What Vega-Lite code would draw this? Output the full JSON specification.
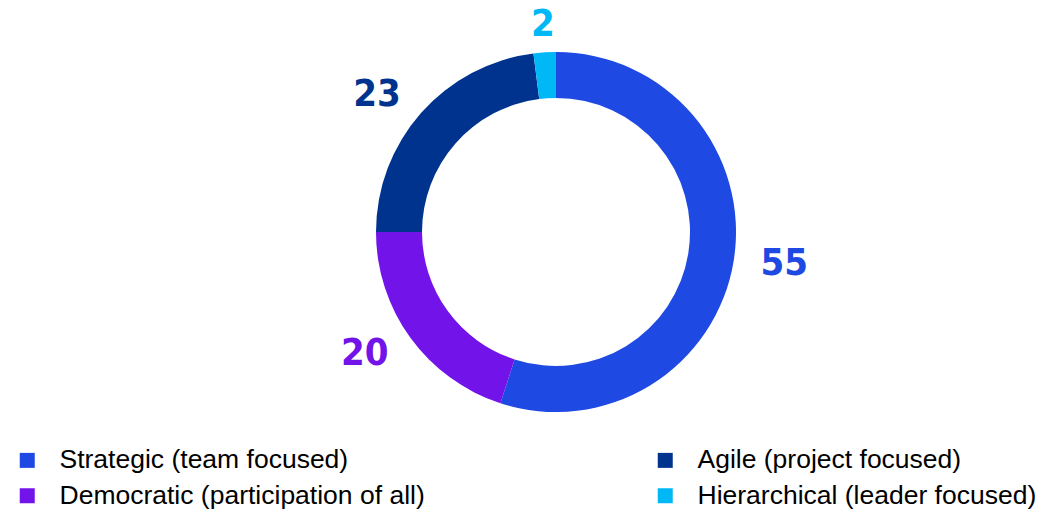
{
  "$schema": "https://vega.github.io/schema/vega-lite/v6.json",
  "width": 966,
  "height": 464,
  "autosize": {"type": "none"},
  "padding": {"left": 73, "top": 0, "right": 0, "bottom": 47},
  "background": "white",
  "view": {"stroke": null},
  "data": {
    "values": [
      {"category": "Strategic (team focused)", "value": 55, "rank": 1},
      {"category": "Democratic (participation of all)", "value": 20, "rank": 2},
      {"category": "Agile (project focused)", "value": 23, "rank": 3},
      {"category": "Hierarchical (leader focused)", "value": 2, "rank": 4}
    ]
  },
  "encoding": {
    "theta": {"field": "value", "type": "quantitative", "stack": true},
    "order": {"field": "rank", "type": "quantitative"},
    "color": {
      "field": "category",
      "type": "nominal",
      "scale": {
        "domain": ["Strategic (team focused)", "Democratic (participation of all)", "Agile (project focused)", "Hierarchical (leader focused)"],
        "range": ["#1E49E2", "#7213EA", "#00338D", "#00B8F5"]
      },
      "legend": {
        "title": null,
        "orient": "none",
        "legendX": -59,
        "legendY": 447,
        "columns": 2,
        "columnPadding": 227,
        "rowPadding": 8.5,
        "padding": 0,
        "symbolType": "square",
        "symbolSize": 225,
        "symbolStrokeWidth": 0,
        "symbolOpacity": 1,
        "labelFont": "Liberation Sans",
        "labelFontSize": 26.5,
        "labelColor": "#000000",
        "labelOffset": 19,
        "labelLimit": 600
      }
    }
  },
  "layer": [
    {"mark": {"type": "arc", "innerRadius": 134, "outerRadius": 180}},
    {
      "mark": {
        "type": "text",
        "radius": 207,
        "font": "DejaVu Sans Condensed",
        "fontWeight": "bold",
        "fontSize": 38,
        "baseline": "middle",
        "align": {"expr": "datum.rank == 1 ? 'left' : datum.rank == 4 ? 'center' : 'right'"}
      },
      "encoding": {"text": {"field": "value", "type": "quantitative"}}
    }
  ]
}
